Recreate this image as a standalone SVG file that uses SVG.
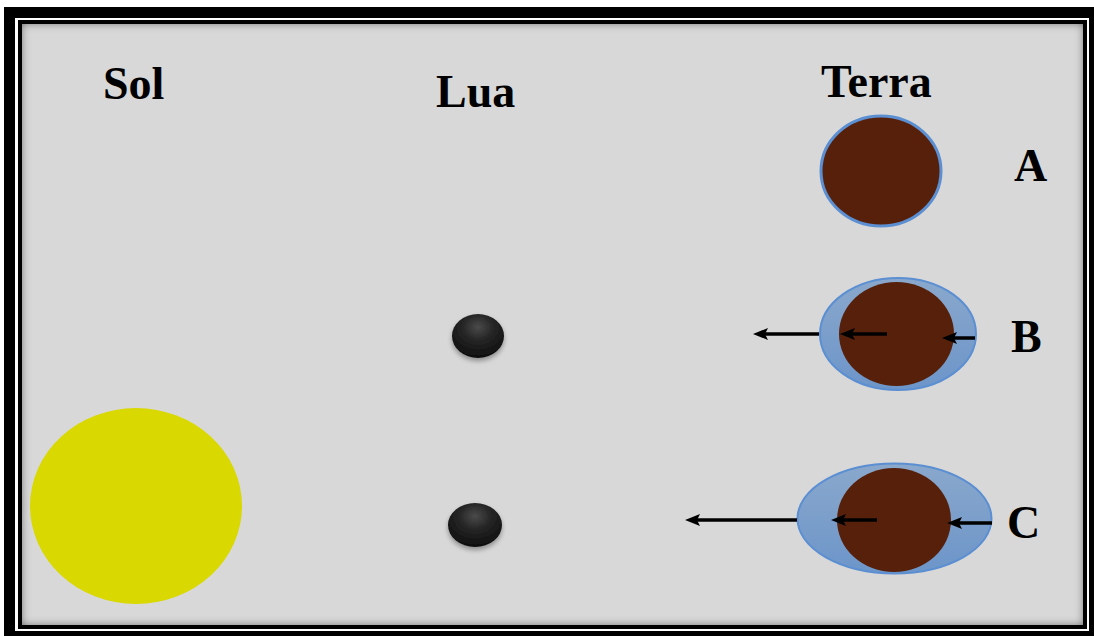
<svg xmlns="http://www.w3.org/2000/svg" width="1094" height="636" viewBox="0 0 1094 636">
  <defs>
    <style>
      .label { font-family: "Liberation Serif", "Times New Roman", serif; font-weight: bold; font-size: 46px; fill: #000; }
      .earth { fill: #57200a; }
      .atmo { fill: url(#atmoGrad); stroke: #5b8fd2; stroke-width: 2; }
      .moon { fill: url(#moonGrad); filter: url(#moonShadow); }
      .force { stroke: #000; stroke-width: 3.5; fill: none; marker-end: url(#arrowHead); }
    </style>
    <linearGradient id="atmoGrad" x1="0" y1="0" x2="0" y2="1">
      <stop offset="0" stop-color="#8aa8cc"/>
      <stop offset="1" stop-color="#6c95c9"/>
    </linearGradient>
    <radialGradient id="moonGrad" cx="0.5" cy="0.3" r="0.65">
      <stop offset="0" stop-color="#4a4a4a"/>
      <stop offset="0.45" stop-color="#262626"/>
      <stop offset="1" stop-color="#111"/>
    </radialGradient>
    <filter id="moonShadow" x="-30%" y="-30%" width="160%" height="170%">
      <feGaussianBlur in="SourceAlpha" stdDeviation="2.5"/>
      <feOffset dy="3" result="sh"/>
      <feComponentTransfer in="sh" result="shA"><feFuncA type="linear" slope="0.35"/></feComponentTransfer>
      <feMerge><feMergeNode in="shA"/><feMergeNode in="SourceGraphic"/></feMerge>
    </filter>
    <!-- soft inner shadow along the edges of the grey panel -->
    <filter id="insetShadow" x="-2%" y="-2%" width="104%" height="104%">
      <feFlood flood-color="#000" flood-opacity="0.85" result="c"/>
      <feComposite in="c" in2="SourceAlpha" operator="out" result="outside"/>
      <feGaussianBlur in="outside" stdDeviation="4" result="blur"/>
      <feComposite in="blur" in2="SourceAlpha" operator="in" result="inner"/>
      <feMerge><feMergeNode in="SourceGraphic"/><feMergeNode in="inner"/></feMerge>
    </filter>
    <marker id="arrowHead" markerUnits="userSpaceOnUse" markerWidth="16" markerHeight="13" refX="3" refY="6.5" orient="auto">
      <path d="M0,0.5 L15,6.5 L0,12.5 L3,6.5 z" fill="#000"/>
    </marker>
  </defs>

  <!-- picture frame -->
  <g id="frame">
    <rect x="0" y="0" width="1094" height="636" fill="#ffffff"/>
    <rect x="4" y="7" width="1090" height="629" fill="#000"/>
    <rect x="15" y="18" width="1074" height="613" fill="#fff"/>
    <rect x="18" y="20" width="1069" height="609" fill="#000"/>
    <rect x="22" y="24" width="1061" height="601" fill="#d8d8d8" filter="url(#insetShadow)"/>
  </g>

  <!-- column headings -->
  <g id="headings">
    <text class="label" x="103" y="99">Sol</text>
    <text class="label" x="436" y="107">Lua</text>
    <text class="label" x="821" y="97">Terra</text>
  </g>

  <g id="sol">
    <ellipse cx="136" cy="506" rx="106" ry="98" fill="#d9d800"/>
  </g>

  <g id="lua-b">
    <ellipse class="moon" cx="478" cy="336" rx="26" ry="22"/>
  </g>
  <g id="lua-c">
    <ellipse class="moon" cx="475" cy="525" rx="27" ry="22"/>
  </g>

  <g id="terra-a">
    <ellipse cx="881" cy="171" rx="60" ry="55" fill="#57200a" stroke="#5b8fd2" stroke-width="3"/>
    <text class="label" x="1014" y="181">A</text>
  </g>

  <g id="terra-b">
    <ellipse class="atmo" cx="898" cy="334" rx="78" ry="56"/>
    <ellipse class="earth" cx="896.5" cy="334" rx="57.5" ry="52"/>
    <text class="label" x="1011" y="352">B</text>
  </g>

  <g id="terra-c">
    <ellipse class="atmo" cx="894.5" cy="518.5" rx="97" ry="55"/>
    <ellipse class="earth" cx="894" cy="520" rx="57" ry="52"/>
    <text class="label" x="1007" y="538">C</text>
  </g>

  <!-- tidal force arrows -->
  <g id="connectors">
    <line class="force" x1="819" y1="334" x2="765" y2="334"/>
    <line class="force" x1="887" y1="334" x2="852" y2="334"/>
    <line class="force" x1="975" y1="338" x2="954" y2="338"/>
    <line class="force" x1="797" y1="520" x2="697" y2="520"/>
    <line class="force" x1="877" y1="520" x2="843" y2="520"/>
    <line class="force" x1="992" y1="523" x2="959" y2="523"/>
  </g>
</svg>
